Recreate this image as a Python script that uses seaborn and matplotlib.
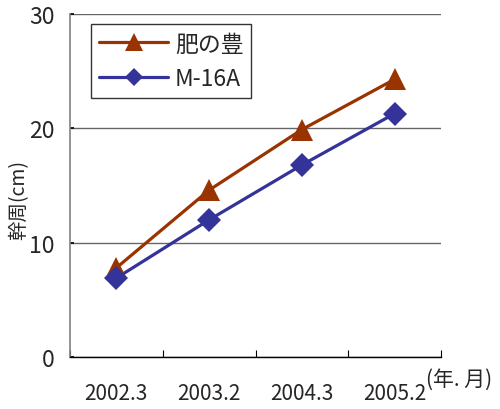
import matplotlib
matplotlib.use("Agg")
import matplotlib.pyplot as plt
import seaborn as sns
import pandas as pd
from matplotlib.lines import Line2D

# trunk circumference by survey date
dates = ["2002.3", "2003.2", "2004.3", "2005.2"]
hinoyutaka = [7.8, 14.6, 19.9, 24.3]
m16a = [6.9, 12.0, 16.8, 21.3]
series_names = ["肥の豊", "M-16A"]
yticks = [0, 10, 20, 30]

sns.set_theme(style="white")
fam = ["Noto Sans CJK JP", "DejaVu Sans"]
plt.rcParams["font.family"] = fam

df = pd.DataFrame({
    "date": dates * 2,
    "girth": hinoyutaka + m16a,
    "variety": [series_names[0]] * 4 + [series_names[1]] * 4,
})

colors = {series_names[0]: "#993300", series_names[1]: "#333399"}
markers = {series_names[0]: "^", series_names[1]: "D"}
msizes = {series_names[0]: 16, series_names[1]: 12}

fig = plt.figure(figsize=(5.0, 4.1), dpi=100)
ax = fig.add_axes([0.14, 0.127, 0.742, 0.836])

sns.lineplot(data=df, x="date", y="girth", hue="variety", palette=colors,
             sort=False, legend=False, linewidth=2.3, ax=ax)
for name in series_names:
    sub = df[df["variety"] == name]
    ax.plot(range(len(dates)), sub["girth"].values, linestyle="none",
            marker=markers[name], markersize=msizes[name],
            color=colors[name], markeredgewidth=0, zorder=5)

ax.set_xlim(-0.5, len(dates) - 0.5)
ax.set_ylim(0, 30)
ax.set_yticks(yticks)
ax.set_xticks(range(len(dates)))
ax.set_xticklabels(dates)
ax.set_xticks([i - 0.5 for i in range(len(dates) + 1)], minor=True)
ax.tick_params(axis="x", which="major", length=0, pad=18, labelsize=15)
ax.tick_params(axis="x", which="minor", direction="in", length=5,
               width=0.8, color="black", bottom=True)
ax.tick_params(axis="y", direction="in", length=3, width=1.2, color="black",
               left=True, pad=11, labelsize=16.5)

ax.grid(axis="y", color="#666666", linewidth=1.0)
ax.set_axisbelow(True)
for s in ["top", "right"]:
    ax.spines[s].set_visible(False)
ax.spines["left"].set_color("#808080")
ax.spines["left"].set_linewidth(1.2)
ax.spines["bottom"].set_color("black")
ax.spines["bottom"].set_linewidth(1.0)

ax.set_xlabel("")
ax.set_ylabel("幹周(cm)", fontsize=14)
ax.yaxis.set_label_coords(-0.11, 0.46)

handles = [Line2D([0], [0], color=colors[n], linewidth=2.3, marker=markers[n],
                  markersize=msizes[n] * 0.8, markeredgewidth=0)
           for n in series_names]
leg = ax.legend(handles, series_names, loc="upper left",
                bbox_to_anchor=(0.057, 0.97), frameon=True, fancybox=False,
                edgecolor="black", handlelength=3.0,
                borderpad=0.35, labelspacing=0.5, handletextpad=0.3,
                borderaxespad=0.0,
                prop={"family": fam, "size": 16.5})
leg.get_frame().set_linewidth(1.0)

fig.text(0.852, 0.06, "(年. 月)", fontsize=15, va="baseline")

fig.savefig("out.png", dpi=100)
